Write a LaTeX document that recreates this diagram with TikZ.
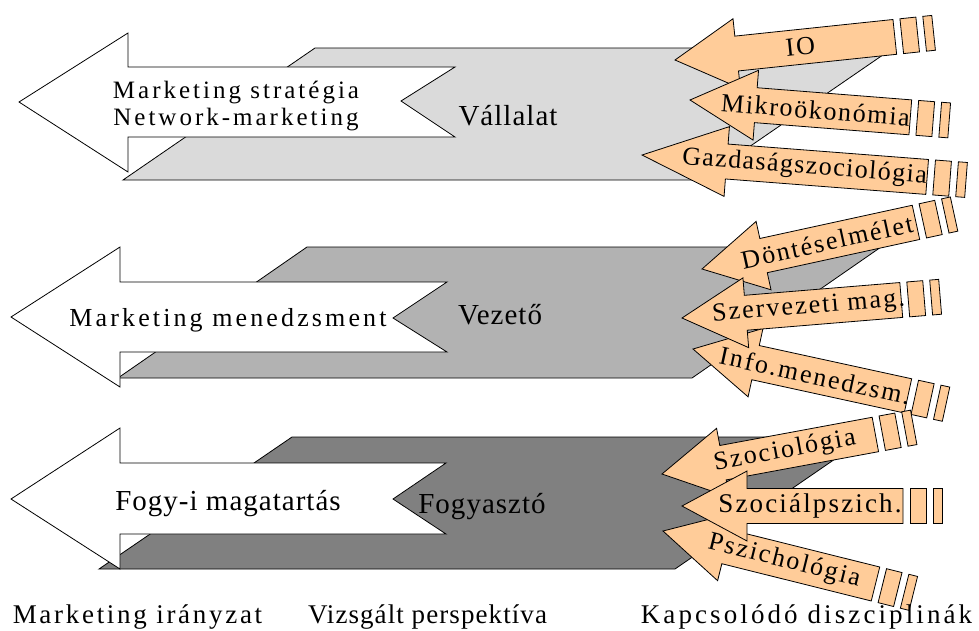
\documentclass[tikz,border=0pt]{standalone}
\usepackage{fontspec}
\setmainfont{Liberation Serif}
% tracked serif faces for the different label groups
\newfontfamily\trackwide{Liberation Serif}[LetterSpace=12]
\newfontfamily\trackmid{Liberation Serif}[LetterSpace=8]
\newfontfamily\tracktight{Liberation Serif}[LetterSpace=3.5]
\newfontfamily\trackfoot{Liberation Serif}[LetterSpace=10]

\definecolor{bandA}{HTML}{DADADA}
\definecolor{bandB}{HTML}{B2B2B2}
\definecolor{bandC}{HTML}{808080}
\definecolor{peach}{HTML}{FFCC99}

\tikzset{
  band/.style={draw=black, line width=0.8pt, line join=miter},
  flowarrow/.style={draw=black, fill=white, line width=0.8pt, line join=miter},
  discarrow/.style={draw=black, fill=peach, line width=0.8pt, line join=miter},
  flowlabel/.style={font=\trackwide\fontsize{25}{27}\selectfont, align=center, inner sep=0pt},
  bandlabel/.style={font=\tracktight\fontsize{29}{34}\selectfont, inner sep=0pt, anchor=base},
  disclabel/.style={font=\trackmid\fontsize{26}{30}\selectfont, inner sep=0pt},
  footlabel/.style={font=\trackfoot\fontsize{27}{30}\selectfont, inner sep=0pt, anchor=base},
}

% striped arrow pointing back to its tip:
% #1 name, #2/#3 tip, #4 angle, #5 head length, #6 shaft end, #7 label offset, #8 text
\newcommand{\discipline}[8]{%
  \begin{scope}[shift={(#2,#3)}, rotate=#4]
    \draw[discarrow] (0,0) -- (#5,-35) -- (#5,-17.5) -- (#6,-17.5) -- (#6,17.5)
      -- (#5,17.5) -- (#5,35) -- cycle;
    \draw[discarrow] (#6+7,-17.5) rectangle (#6+23,17.5);
    \draw[discarrow] (#6+30,-17.5) rectangle (#6+39,17.5);
    \node[disclabel, rotate=#4] (#1) at (#7,0) {#8};
  \end{scope}}

\begin{document}
\begin{tikzpicture}[x=1pt, y=-1pt]
\useasboundingbox (0,0) rectangle (979,630);
\clip (0,0) rectangle (979,630);

% ---------- company level ----------
\draw[band, fill=bandA] (123,180) -- (315,48) -- (893,48) -- (701,180) -- cycle;
\draw[flowarrow] (19,102) -- (128,33) -- (128,67) -- (455,67) -- (401,101)
  -- (455,137) -- (128,137) -- (128,172) -- cycle;
\node[flowlabel] (strat) at (236,106) {Marketing stratégia\\Network-marketing};
\node[bandlabel] (vall) at (508,125) {Vállalat};

% ---------- manager level ----------
\draw[band, fill=bandB] (118,378) -- (307,247) -- (881,247) -- (692,378) -- cycle;
\draw[flowarrow] (11,317) -- (120,247) -- (120,282) -- (447,282) -- (393,318)
  -- (447,352) -- (120,352) -- (120,387) -- cycle;
\node[flowlabel, font=\trackwide\fontsize{26}{28}\selectfont] (menedzs) at (228,320) {Marketing menedzsment};
\node[bandlabel] (vez) at (500,324) {Vezető};

% ---------- consumer level ----------
\draw[band, fill=bandC] (99,569) -- (292,437) -- (867,437) -- (675,569) -- cycle;
\draw[flowarrow] (11,499) -- (120,428) -- (120,463) -- (446,463) -- (393,499)
  -- (446,534) -- (120,534) -- (120,569) -- cycle;
\node[bandlabel] (fogyi) at (228,510) {Fogy-i magatartás};
\node[bandlabel] (fogy) at (482,513) {Fogyasztó};

% ---------- related disciplines ----------
\discipline{io}{675}{60}{6}{62}{221}{126}{IO}
\discipline{gazd}{642}{155}{-4.4}{85}{286}{163}{\addfontfeature{LetterSpace=5.5}Gazdaságszociológia}
\discipline{mikro}{690}{100}{-4.5}{66}{221}{126}{\addfontfeature{LetterSpace=6.5}Mikroökonómia}

\discipline{dont}{702}{269}{12.3}{63}{219}{128}{Döntéselmélet}
\discipline{info}{693}{349}{-12.3}{64}{220}{125}{Info.menedzsm.}
\discipline{szerv}{682}{318}{4.7}{64}{220}{127}{Szervezeti mag.}

\discipline{szoc}{662}{474}{10.5}{62}{217}{125}{Szociológia}
\discipline{pszi}{663}{531}{-14}{65}{219}{125}{Pszichológia}
\discipline{szpsz}{682}{506}{0}{65}{221}{128}{\fontsize{27}{30}\selectfont Szociálpszich.}

% ---------- column captions ----------
\node[footlabel] (irany) at (137.5,623) {Marketing irányzat};
\node[footlabel, font=\trackfoot\fontsize{27}{30}\selectfont\addfontfeature{LetterSpace=4}] (persp) at (427.5,623) {Vizsgált perspektíva};
\node[footlabel, font=\trackfoot\fontsize{27}{30}\selectfont\addfontfeature{LetterSpace=11.5}] (kapcs) at (806.5,623) {Kapcsolódó diszciplinák};
\end{tikzpicture}
\end{document}
